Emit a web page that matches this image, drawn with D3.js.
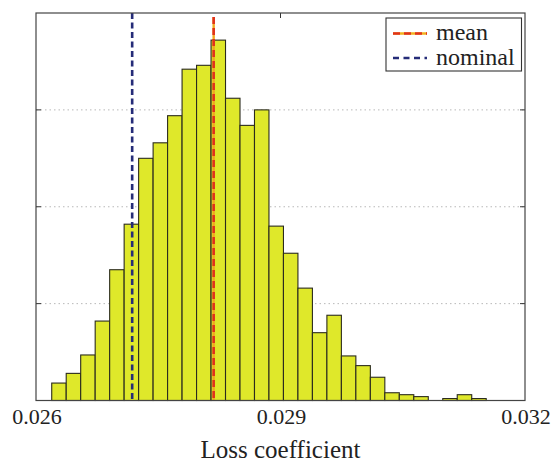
<!DOCTYPE html>
<html>
<head>
<meta charset="utf-8">
<script src="https://cdn.jsdelivr.net/npm/d3@7"></script>
<style>
  body { margin: 0; background: #fff; }
</style>
</head>
<body>
<svg id="chart" width="555" height="464"></svg>
<script>
// histogram counts (30 bins, 4000 samples)
const counts = [18, 28, 47, 82, 135, 182, 250, 266, 294, 342, 346, 372, 312, 284, 300,
  180, 152, 116, 70, 88, 46, 36, 24, 8, 6, 4, 0, 2, 6, 2];
const binStart = 0.026193;
const binWidth = 0.0001777;
const xTicks = [0.026, 0.029, 0.032];
const yTicks = [0, 100, 200, 300, 400];
const meanValue = 0.02818;
const nominalValue = 0.02718;
const legendLabels = ['mean', 'nominal'];
const xLabel = 'Loss coefficient';

const margin = { top: 13, right: 30, bottom: 63.5, left: 36 };
const width = 555;
const height = 464;
const serif = '"Liberation Serif", monospace';

const svg = d3.select('#chart');

const x = d3.scaleLinear()
  .domain([0.026, 0.032])
  .range([margin.left, width - margin.right]);

const y = d3.scaleLinear()
  .domain([0, 400])
  .range([height - margin.bottom, margin.top]);

const bins = counts.map((c, i) => ({
  x0: binStart + i * binWidth,
  x1: binStart + (i + 1) * binWidth,
  count: c,
}));

// grid (under the bars)
svg.append('g')
  .selectAll('line')
  .data(yTicks.slice(1, -1))
  .join('line')
  .attr('x1', x(0.026))
  .attr('x2', x(0.032))
  .attr('y1', d => y(d))
  .attr('y2', d => y(d))
  .attr('stroke', '#b8b8b8')
  .attr('stroke-width', 1)
  .attr('stroke-dasharray', '1.5,3');

// ticks, inward on all four sides
const ticks = svg.append('g').attr('stroke', '#333').attr('stroke-width', 1);
yTicks.slice(1, -1).forEach(t => {
  ticks.append('line').attr('x1', x(0.026)).attr('x2', x(0.026) + 5).attr('y1', y(t)).attr('y2', y(t));
  ticks.append('line').attr('x1', x(0.032)).attr('x2', x(0.032) - 5).attr('y1', y(t)).attr('y2', y(t));
});
xTicks.slice(1, -1).forEach(t => {
  ticks.append('line').attr('x1', x(t)).attr('x2', x(t)).attr('y1', y(400)).attr('y2', y(400) + 5);
  ticks.append('line').attr('x1', x(t)).attr('x2', x(t)).attr('y1', y(0)).attr('y2', y(0) - 5);
});

// bars
svg.append('g')
  .selectAll('rect')
  .data(bins.filter(d => d.count > 0))
  .join('rect')
  .attr('x', d => x(d.x0))
  .attr('width', d => x(d.x1) - x(d.x0))
  .attr('y', d => y(d.count))
  .attr('height', d => y(0) - y(d.count))
  .attr('fill', '#dfe82a')
  .attr('stroke', '#2b2b1e')
  .attr('stroke-width', 1.1);

// reference lines
svg.append('line')
  .attr('x1', x(nominalValue)).attr('x2', x(nominalValue))
  .attr('y1', y(400)).attr('y2', y(0))
  .attr('stroke', '#252c78')
  .attr('stroke-width', 2.6)
  .attr('stroke-dasharray', '6,3.5');

svg.append('line')
  .attr('x1', x(meanValue)).attr('x2', x(meanValue))
  .attr('y1', y(400) + 4).attr('y2', y(0))
  .attr('stroke', '#f2a81e')
  .attr('stroke-width', 2.4);

svg.append('line')
  .attr('x1', x(meanValue)).attr('x2', x(meanValue))
  .attr('y1', y(400) + 4).attr('y2', y(0))
  .attr('stroke', '#e0321c')
  .attr('stroke-width', 2.6)
  .attr('stroke-dasharray', '7,4');

// box
svg.append('rect')
  .attr('x', x(0.026))
  .attr('y', y(400))
  .attr('width', x(0.032) - x(0.026))
  .attr('height', y(0) - y(400))
  .attr('fill', 'none')
  .attr('stroke', '#444')
  .attr('stroke-width', 1.2);

// tick labels
svg.append('g')
  .selectAll('text')
  .data(xTicks)
  .join('text')
  .attr('x', d => x(d) + 1)
  .attr('y', 424)
  .attr('text-anchor', 'middle')
  .attr('font-size', 22)
  .style('font-family', serif)
  .attr('fill', '#222')
  .text(d => d3.format('.3f')(d));

svg.append('text')
  .attr('x', (x(0.026) + x(0.032)) / 2)
  .attr('y', 457.5)
  .attr('text-anchor', 'middle')
  .attr('font-size', 25)
  .style('font-family', serif)
  .attr('fill', '#222')
  .text(xLabel);

// legend
const legend = svg.append('g');
legend.append('rect')
  .attr('x', 386).attr('y', 18)
  .attr('width', 135.5).attr('height', 53)
  .attr('fill', '#fff')
  .attr('stroke', '#333')
  .attr('stroke-width', 1.1);

const items = legend.selectAll('g')
  .data(legendLabels)
  .join('g')
  .attr('transform', (d, i) => `translate(393,${33.5 + i * 24.5})`);

items.filter(d => d === 'mean').append('line')
  .attr('x1', 0).attr('x2', 34)
  .attr('stroke', '#f2b21e').attr('stroke-width', 2.4);
items.filter(d => d === 'mean').append('line')
  .attr('x1', 0).attr('x2', 34)
  .attr('stroke', '#e0321c').attr('stroke-width', 2.6)
  .attr('stroke-dasharray', '7,4');
items.filter(d => d === 'nominal').append('line')
  .attr('x1', 0).attr('x2', 34)
  .attr('stroke', '#252c78').attr('stroke-width', 2.6)
  .attr('stroke-dasharray', '6,4.5');

items.append('text')
  .attr('x', 43)
  .attr('y', 6.5)
  .attr('font-size', 24)
  .style('font-family', serif)
  .attr('fill', '#222')
  .text(d => d);
</script>
</body>
</html>
